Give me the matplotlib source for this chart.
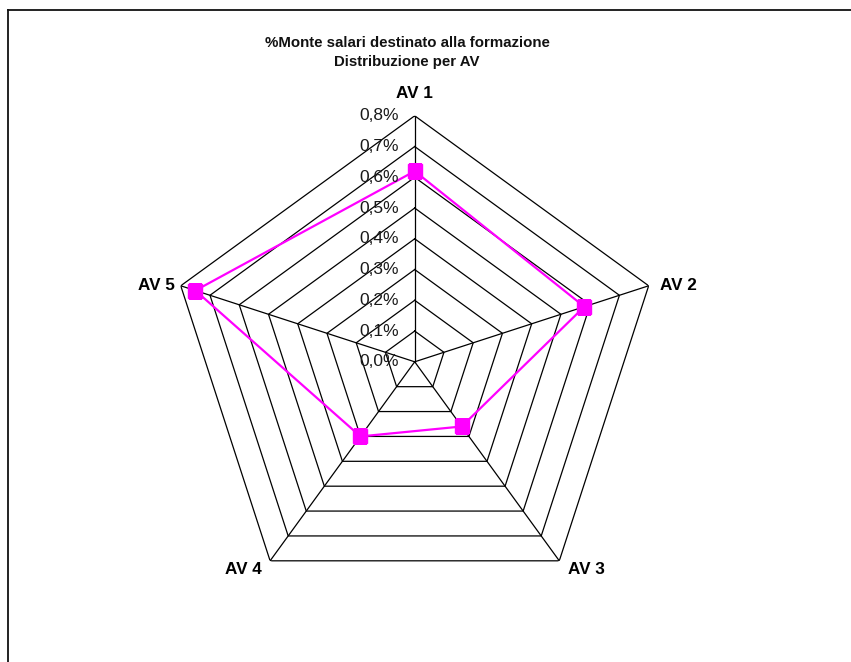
import numpy as np
import matplotlib
matplotlib.use("Agg")
import matplotlib.pyplot as plt
from matplotlib.lines import Line2D

plt.rcParams['font.family'] = ['Liberation Sans', 'DejaVu Sans']

# Chart data
categories = ["AV 1", "AV 2", "AV 3", "AV 4", "AV 5"]
values = [0.62, 0.58, 0.26, 0.30, 0.75]          # % of payroll
levels = [0.0, 0.1, 0.2, 0.3, 0.4, 0.5, 0.6, 0.7, 0.8]
level_labels = ["0,0%", "0,1%", "0,2%", "0,3%", "0,4%", "0,5%", "0,6%", "0,7%", "0,8%"]
title_lines = ["%Monte salari destinato alla formazione", "Distribuzione per AV"]

W, H = 851, 662
fig = plt.figure(figsize=(W / 100, H / 100), dpi=100)
fig.patch.set_facecolor("white")

# chart frame (top and left edges)
fig.add_artist(Line2D([8 / W, 1.0], [1 - 10 / H, 1 - 10 / H], transform=fig.transFigure,
                      color="#111111", lw=1.3))
fig.add_artist(Line2D([8 / W, 8 / W], [0.0, 1 - 10 / H], transform=fig.transFigure,
                      color="#111111", lw=1.3))

cx, cy, R = 414.7, 361.8, 246.0
ax = fig.add_axes([(cx - R) / W, (H - cy - R) / H, 2 * R / W, 2 * R / H], projection="polar")
ax.set_theta_offset(np.pi / 2)
ax.set_theta_direction(-1)
ax.set_ylim(0, levels[-1])
ax.grid(False)
ax.spines["polar"].set_visible(False)
ax.set_xticks([])
ax.set_yticks([])
ax.patch.set_alpha(0)

n = len(categories)
theta = np.arange(n) * 2 * np.pi / n
theta_closed = np.append(theta, theta[0])

# pentagon grid
for lv in levels[1:]:
    ax.plot(theta_closed, [lv] * (n + 1), color="black", lw=0.9, zorder=1)
for t in theta:
    ax.plot([t, t], [0, levels[-1]], color="black", lw=0.9, zorder=1)

# data series
vals_closed = values + values[:1]
ax.plot(theta_closed, vals_closed, color="#FF00FF", lw=1.6, zorder=3)
ax.plot(theta, values, linestyle="none", marker="s", markersize=9.5,
        color="#FF00FF", zorder=4)

# radial value labels, placed left of the first spoke
for lv, lab in zip(levels, level_labels):
    ax.annotate(lab, xy=(0, lv), xytext=(-11.5, 0), textcoords="offset points",
                ha="right", va="center", fontsize=12.5, color="#1a1a1a")

# category labels
offsets = {0: (0, 16, "center", "center"),
           1: (8, 0, "left", "center"),
           2: (6, -6.5, "left", "center"),
           3: (-6, -6.5, "right", "center"),
           4: (-4, 0, "right", "center")}
for i, (t, lab) in enumerate(zip(theta, categories)):
    dx, dy, ha, va = offsets[i]
    ax.annotate(lab, xy=(t, levels[-1]), xytext=(dx, dy), textcoords="offset points",
                ha=ha, va=va, fontsize=12.3, fontweight="bold", color="black")

fig.text(407 / W, 1 - 43 / H, title_lines[0], ha="center", va="center",
         fontsize=10.8, fontweight="bold", color="#111111")
fig.text(407 / W, 1 - 62 / H, title_lines[1], ha="center", va="center",
         fontsize=10.8, fontweight="bold", color="#111111")

fig.savefig("out.png", dpi=100, facecolor="white")
